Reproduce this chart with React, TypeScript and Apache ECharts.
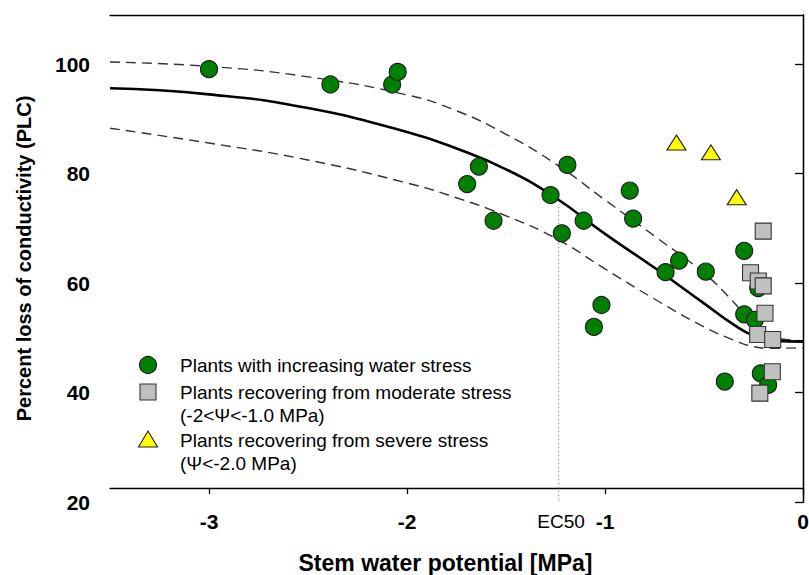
import React, { useEffect, useRef } from "react";
import * as echarts from "echarts";

// Scatter data
const increasingX = [-3.0, -2.387, -2.075, -2.047, -1.637, -1.696, -1.563, -1.275, -1.19, -1.218, -1.108, -0.875, -0.858, -1.018, -1.056, -0.626, -0.694, -0.491, -0.297, -0.395, -0.297, -0.243, -0.226, -0.213, -0.176];
const increasingY = [99.1, 96.3, 96.3, 98.6, 81.3, 78.1, 71.4, 76.1, 81.6, 69.1, 71.4, 76.9, 71.8, 56.0, 52.0, 64.1, 62.0, 62.1, 65.9, 42.0, 54.3, 53.3, 59.1, 43.5, 41.4];

const moderateX = [-0.201, -0.265, -0.226, -0.201, -0.192, -0.229, -0.153, -0.155, -0.218];
const moderateY = [69.5, 61.9, 60.4, 59.5, 54.5, 50.6, 49.7, 43.8, 39.9];

const severeX = [-0.639, -0.465, -0.335];
const severeY = [85.7, 83.9, 75.7];

// Fitted curve and confidence bands
const curveX = [-3.5, -3.0, -2.5, -2.0, -1.75, -1.5, -1.25, -1.0, -0.75, -0.5, -0.35, -0.25, -0.15, 0];
const fitY = [95.6, 94.5, 92.0, 87.6, 84.6, 80.8, 75.6, 69.0, 62.8, 56.3, 52.4, 50.4, 49.5, 49.3];
const upperY = [100.4, 99.6, 97.7, 94.4, 91.5, 87.2, 81.8, 75.2, 68.6, 61.8, 56.5, 52.2, 50.0, 49.5];
const lowerY = [88.3, 85.6, 82.5, 78.3, 75.6, 72.3, 68.2, 62.6, 57.1, 52.0, 49.6, 48.4, 48.1, 48.2];

const ec50X = -1.234;
const ec50Y = [20.3, 74.5];

const xTicks = [-3, -2, -1, 0];
const yTicks = [20, 40, 60, 80, 100];

const legendLines = [
  "Plants with increasing water stress",
  "Plants recovering from moderate stress",
  "(-2<Ψ<-1.0 MPa)",
  "Plants recovering from severe stress",
  "(Ψ<-2.0 MPa)",
];

const FONT = "'Liberation Sans', Arial, Helvetica, sans-serif";
const GREEN = "#007f00";
const GREY = "#c0c0c0";
const YELLOW = "#ffff00";

const zip = (xs: number[], ys: number[]) => xs.map((x, i) => [x, ys[i]]);

export default function App() {
  const ref = useRef<HTMLDivElement>(null);
  useEffect(() => {
    if (!ref.current) return;
    const chart = echarts.init(ref.current, null, { renderer: "svg" });
    const grid = { left: 110, right: 6, top: 15, bottom: 73, containLabel: false, outerBoundsMode: "none" };
    const legendX = 148;
    const legendTextX = 180;
    const rowY = [365, 392, 415, 440, 463];
    const curveLine = (ys: number[], style: any, z: number) => ({
      type: "line",
      data: zip(curveX, ys),
      smooth: 0.5,
      symbol: "none",
      lineStyle: style,
      silent: true,
      z,
    });
    chart.setOption({
      animation: false,
      backgroundColor: "#ffffff",
      grid,
      xAxis: [
        {
          type: "value",
          min: -3.5,
          max: 0,
          position: "bottom",
          offset: -14,
          axisLine: { show: true, lineStyle: { color: "#000", width: 1.3 } },
          axisTick: { show: true, inside: false, length: 6, customValues: xTicks, lineStyle: { color: "#000", width: 1.3 } },
          axisLabel: {
            customValues: xTicks,
            formatter: (v: number) => String(v),
            color: "#000",
            fontFamily: FONT,
            fontWeight: "bold",
            fontSize: 21,
            margin: 23,
          },
          splitLine: { show: false },
          name: "Stem water potential [MPa]",
          nameLocation: "middle",
          nameGap: 63,
          nameTextStyle: { color: "#000", fontFamily: FONT, fontWeight: "bold", fontSize: 23, padding: [0, 22, 0, 0] },
        },
        {
          type: "value",
          min: -3.5,
          max: 0,
          position: "top",
          axisLine: { show: true, lineStyle: { color: "#000", width: 1.3 } },
          axisTick: { show: false },
          axisLabel: { show: false },
          splitLine: { show: false },
        },
      ],
      yAxis: [
        {
          type: "value",
          min: 20,
          max: 109,
          position: "left",
          axisLine: { show: true, lineStyle: { color: "#000", width: 1.3 } },
          axisTick: { show: true, length: 8, customValues: yTicks, lineStyle: { color: "#000", width: 1.3 } },
          axisLabel: {
            customValues: yTicks,
            color: "#000",
            fontFamily: FONT,
            fontWeight: "bold",
            fontSize: 21,
            margin: 20,
          },
          splitLine: { show: false },
          name: "Percent loss of conductivity (PLC)",
          nameLocation: "middle",
          nameGap: 76,
          nameTextStyle: { color: "#000", fontFamily: FONT, fontWeight: "bold", fontSize: 20 },
        },
        {
          type: "value",
          min: 20,
          max: 109,
          position: "right",
          axisLine: { show: true, lineStyle: { color: "#000", width: 1.3 } },
          axisTick: { show: false },
          axisLabel: { show: false },
          splitLine: { show: false },
        },
      ],
      series: [
        {
          type: "line",
          data: [[ec50X, ec50Y[0]], [ec50X, ec50Y[1]]],
          symbol: "none",
          lineStyle: { color: "#999", width: 1.2, type: [1.5, 2.5] },
          silent: true,
          z: 1,
        },
        curveLine(upperY, { color: "#333", width: 1.4, type: [10, 6] }, 2),
        curveLine(lowerY, { color: "#333", width: 1.4, type: [10, 6] }, 2),
        curveLine(fitY, { color: "#000", width: 2.6 }, 3),
        {
          type: "scatter",
          data: zip(increasingX, increasingY),
          symbol: "circle",
          symbolSize: 17,
          itemStyle: { color: GREEN, borderColor: "#1a1a1a", borderWidth: 1.1, opacity: 1 },
          z: 4,
        },
        {
          type: "scatter",
          data: zip(moderateX, moderateY),
          symbol: "rect",
          symbolSize: 16,
          itemStyle: { color: GREY, borderColor: "#333", borderWidth: 1.1, opacity: 1 },
          z: 5,
        },
        {
          type: "scatter",
          data: zip(severeX, severeY),
          symbol: "triangle",
          symbolSize: [19, 15],
          itemStyle: { color: YELLOW, borderColor: "#222", borderWidth: 1.1, opacity: 1 },
          z: 6,
        },
      ],
      graphic: [
        {
          type: "circle",
          shape: { cx: legendX, cy: rowY[0], r: 8.5 },
          style: { fill: GREEN, stroke: "#1a1a1a", lineWidth: 1.1 },
        },
        {
          type: "rect",
          shape: { x: legendX - 8, y: rowY[1] - 8, width: 16, height: 16 },
          style: { fill: GREY, stroke: "#333", lineWidth: 1.1 },
        },
        {
          type: "polygon",
          shape: { points: [[legendX, rowY[3] - 9], [legendX + 9.5, rowY[3] + 7], [legendX - 9.5, rowY[3] + 7]] },
          style: { fill: YELLOW, stroke: "#222", lineWidth: 1.1 },
        },
        ...legendLines.map((t, i) => ({
          type: "text",
          x: legendTextX,
          y: rowY[i],
          style: { text: t, fill: "#000", font: `19px ${FONT}`, textVerticalAlign: "middle", verticalAlign: "middle" },
        })),
        {
          type: "text",
          x: 561,
          y: 521,
          style: { text: "EC50", fill: "#000", font: `19px ${FONT}`, textAlign: "center", align: "center", verticalAlign: "middle", textVerticalAlign: "middle" },
        },
      ],
    });
    return () => chart.dispose();
  }, []);
  return (
    <div
      ref={ref}
      style={{ position: "fixed", left: 0, top: 0, width: 809, height: 575, background: "#fff" }}
    />
  );
}
